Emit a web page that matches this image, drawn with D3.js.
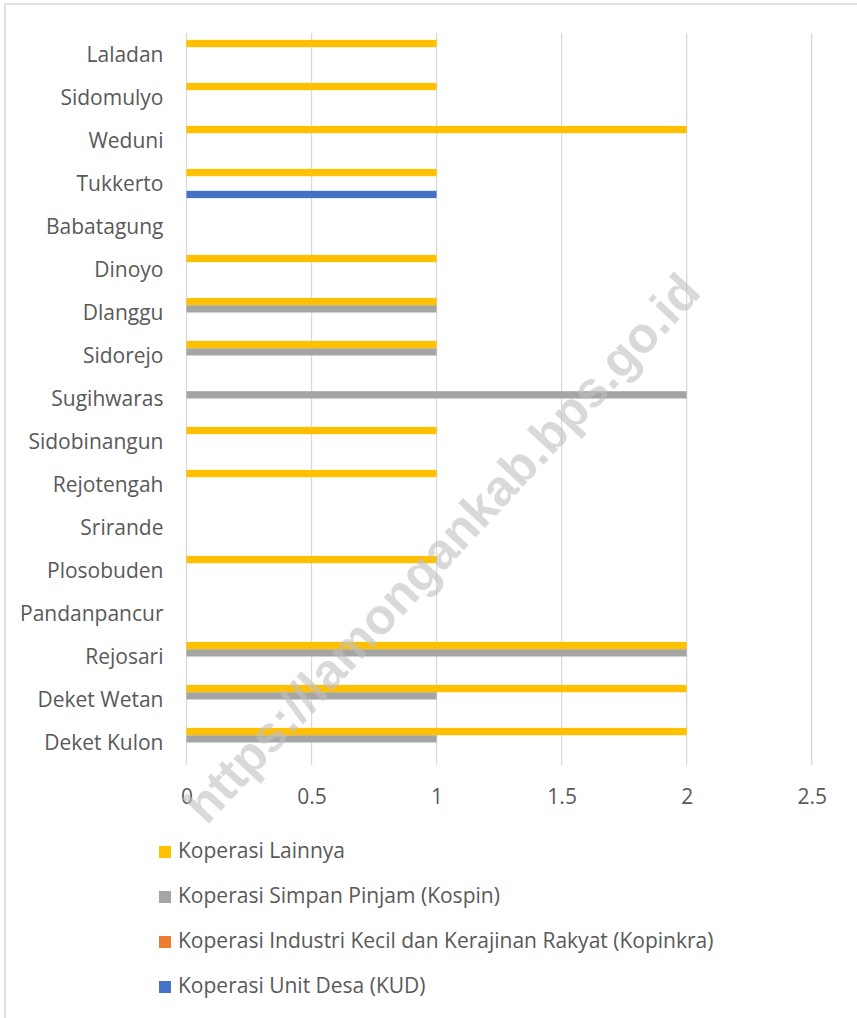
<!DOCTYPE html>
<html>
<head>
<meta charset="utf-8">
<script src="https://cdn.jsdelivr.net/npm/d3@7"></script>
<style>
  body { margin: 0; background: #fff; }
  svg { display: block; }
</style>
</head>
<body>
<svg id="chart"></svg>
<script>
const villages = ["Laladan", "Sidomulyo", "Weduni", "Tukkerto", "Babatagung", "Dinoyo", "Dlanggu",
  "Sidorejo", "Sugihwaras", "Sidobinangun", "Rejotengah", "Srirande", "Plosobuden",
  "Pandanpancur", "Rejosari", "Deket Wetan", "Deket Kulon"];

const seriesNames = ["Koperasi Unit Desa (KUD)",
  "Koperasi Industri Kecil dan Kerajinan Rakyat (Kopinkra)",
  "Koperasi Simpan Pinjam (Kospin)",
  "Koperasi Lainnya"];

const kud      = [0, 0, 0, 1, 0, 0, 0, 0, 0, 0, 0, 0, 0, 0, 0, 0, 0];
const kopinkra = [0, 0, 0, 0, 0, 0, 0, 0, 0, 0, 0, 0, 0, 0, 0, 0, 0];
const kospin   = [0, 0, 0, 0, 0, 0, 1, 1, 2, 0, 0, 0, 0, 0, 2, 1, 1];
const lainnya  = [1, 1, 2, 1, 0, 1, 1, 1, 0, 1, 1, 0, 1, 0, 2, 2, 2];

const xTicks = [0, 0.5, 1, 1.5, 2, 2.5];
const colors = ["#4472C4", "#ED7D31", "#A5A5A5", "#FFC000"];

const width = 857, height = 1018;
const margin = { top: 33, left: 186.5, right: 45, bottom: 254 };
const textColor = "#595959";
const font = "'Open Sans', sans-serif";
const fontSize = 21;

const svg = d3.select("#chart").attr("width", width).attr("height", height);

// light frame around the chart area
svg.append("rect")
  .attr("x", 5).attr("y", 4)
  .attr("width", width + 20).attr("height", height + 20)
  .attr("fill", "none")
  .attr("stroke", "#d9d9d9")
  .attr("stroke-width", 1.5);

const x = d3.scaleLinear().domain([0, 2.5]).range([margin.left, 811.7]);
const y = d3.scaleBand().domain(villages).range([margin.top, 764]).paddingInner(0.32).paddingOuter(0.16);

// top of group = Lainnya, bottom = KUD
const inner = d3.scaleBand().domain([3, 2, 1, 0]).range([0, y.bandwidth()]);

// grid
svg.append("g")
  .selectAll("line")
  .data(xTicks)
  .join("line")
  .attr("x1", d => x(d)).attr("x2", d => x(d))
  .attr("y1", margin.top).attr("y2", 765)
  .attr("stroke", "#d9d9d9")
  .attr("stroke-width", 1.3);

const allSeries = [kud, kopinkra, kospin, lainnya];
const rows = [];
villages.forEach((v, i) => {
  allSeries.forEach((s, k) => rows.push({ v, k, value: s[i] }));
});

svg.append("g")
  .selectAll("rect")
  .data(rows.filter(d => d.value > 0))
  .join("rect")
  .attr("x", x(0))
  .attr("y", d => y(d.v) + inner(d.k))
  .attr("width", d => x(d.value) - x(0))
  .attr("height", inner.bandwidth())
  .attr("fill", d => colors[d.k]);

// category labels
svg.append("g")
  .attr("transform", `translate(${margin.left},0)`)
  .call(d3.axisLeft(y).tickSize(0).tickPadding(23))
  .call(g => g.select(".domain").remove())
  .selectAll("text")
  .attr("dy", "0.36em")
  .attr("font-family", font)
  .attr("font-size", fontSize)
  .attr("fill", textColor);

// value axis labels
svg.append("g")
  .attr("transform", `translate(0,765)`)
  .call(d3.axisBottom(x).tickValues(xTicks).tickFormat(d3.format("")).tickSize(0).tickPadding(24))
  .call(g => g.select(".domain").remove())
  .selectAll("text")
  .attr("font-family", font)
  .attr("font-size", fontSize)
  .attr("fill", textColor);

// legend, reversed like the original
const legendOrder = [3, 2, 1, 0];
const legend = svg.append("g")
  .selectAll("g")
  .data(legendOrder)
  .join("g")
  .attr("transform", (d, i) => `translate(159,${858 + i * 45})`);

legend.append("rect")
  .attr("x", 0).attr("y", -12)
  .attr("width", 12).attr("height", 12)
  .attr("fill", d => colors[d]);

legend.append("text")
  .attr("x", 19).attr("y", 0)
  .attr("font-family", font)
  .attr("font-size", fontSize)
  .attr("fill", textColor)
  .text(d => seriesNames[d]);

// watermark
const wm = svg.append("text")
  .attr("transform", "translate(442,548) rotate(-47)")
  .attr("text-anchor", "middle")
  .attr("dy", "0.35em")
  .attr("font-family", "'Liberation Sans', Arial, sans-serif")
  .attr("font-weight", "bold")
  .attr("font-size", 40)
  .attr("fill", "#bfbfbf")
  .attr("fill-opacity", 0.6)
  .text("https://lamongankab.bps.go.id");

const len = wm.node().getComputedTextLength();
wm.attr("font-size", 40 * 728 / len);
</script>
</body>
</html>
